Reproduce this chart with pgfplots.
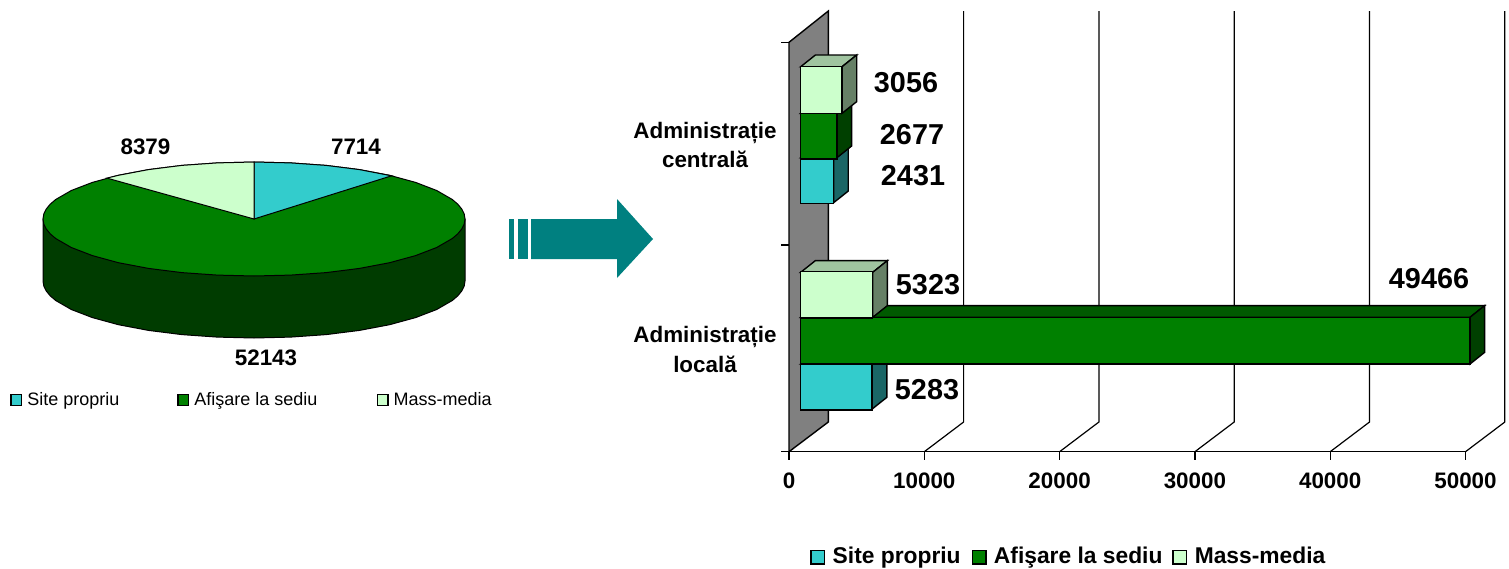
\documentclass[border=0pt]{standalone}
\usepackage{fontspec}
\setmainfont{Liberation Sans}
\usepackage{pgfplots}
\pgfplotsset{compat=1.18}

\definecolor{cSite}{HTML}{33CCCC}
\definecolor{cSiteSide}{HTML}{1A6666}
\definecolor{cAfis}{HTML}{008000}
\definecolor{cAfisTop}{HTML}{005A00}
\definecolor{cAfisSide}{HTML}{004000}
\definecolor{cMass}{HTML}{CCFFCC}
\definecolor{cMassTop}{HTML}{A0C4A0}
\definecolor{cMassSide}{HTML}{668066}
\definecolor{cPieSide}{HTML}{003C00}
\definecolor{cArrow}{HTML}{008080}

\newcommand{\fs}[1]{\fontsize{#1}{#1}\selectfont\bfseries}

% value, y top, y bottom, front, top face, side face
\newcommand{\threedbar}[6]{%
  \edef\xb{\the\numexpr#1+1086\relax}%
  \pgfmathsetmacro\yc{(#2+#3)/2}%
  \pgfmathsetmacro\yt{#2-11.7}%
  \pgfmathsetmacro\yb{#3-11.7}%
  \pgfmathsetmacro\bw{(#3-#2)*0.5}%
  \addplot[forget plot,draw=black,line width=0.7pt,fill=#5,xshift=5.85pt] coordinates {(0,#2) (#1,#2) (\xb,\yt) (1086,\yt)} -- cycle;
  \addplot[forget plot,draw=black,line width=0.7pt,fill=#6,xshift=5.85pt] coordinates {(#1,#2) (\xb,\yt) (\xb,\yb) (#1,#3)} -- cycle;
  \addplot[forget plot,xbar,bar shift=0pt,bar width=\bw pt,draw=black,line width=0.7pt,fill=#4,xshift=5.85pt] coordinates {(#1,\yc)};
}

\begin{document}
\begin{tikzpicture}
\path[use as bounding box] (0,0) rectangle (754.5pt,284pt);

% left part: pie, arrow and all free text, on a pixel grid
\begin{axis}[
  at={(0,0)}, anchor=south west,
  scale only axis, width=754.5pt, height=284pt,
  xmin=0, xmax=1509, ymin=0, ymax=568, y dir=reverse,
  hide axis, clip=false,
  legend style={at={(axis cs:10,400)},anchor=west,draw=none,fill=none,inner sep=0pt,
    font=\fontsize{9}{10}\selectfont,legend columns=3,
    /tikz/column 2/.style={column sep=27pt},
    /tikz/column 4/.style={column sep=27.5pt}},
  legend cell align=left,
  legend image code/.code={\draw[#1,line width=0.6pt] (0pt,-2.9pt) rectangle (5.4pt,2.9pt); \path (6pt,0pt);},
]
% side wall
\addplot[forget plot,draw=black,line width=0.5pt,fill=cPieSide] coordinates {
  (465,219) (465,281) (464.2,286) (461.8,290.9) (457.8,295.8) (452.3,300.5) (436.7,309.5) (415.6,317.6)
  (389.6,324.7) (359.5,330.4) (326.2,334.6) (290.6,337.1) (254,338) (217.4,337.1) (181.8,334.6)
  (148.5,330.4) (118.4,324.7) (92.4,317.6) (71.3,309.5) (55.7,300.5) (50.2,295.8) (46.2,290.9) (43.8,286) (43,281) (43,219)
} -- cycle;
% top: green sector as whole ellipse, other two over it
\addplot[forget plot,draw=black,line width=0.5pt,fill=cAfis] coordinates {
  (465,219) (464.2,224) (461.8,228.9) (457.8,233.8) (452.3,238.5) (436.7,247.5) (415.6,255.6) (389.6,262.7) (359.5,268.4)
  (326.2,272.6) (290.6,275.1) (254,276) (217.4,275.1) (181.8,272.6) (148.5,268.4) (118.4,262.7)
  (92.4,255.6) (71.3,247.5) (55.7,238.5) (50.2,233.8) (46.2,228.9) (43.8,224) (43,219)
  (43.8,214) (46.2,209.1) (50.2,204.2) (55.7,199.5) (71.3,190.5) (92.4,182.4) (118.4,175.3) (148.5,169.6) (181.8,165.4) (217.4,162.9)
  (254,162) (290.6,162.9) (326.2,165.4) (359.5,169.6) (389.6,175.3) (415.6,182.4) (436.7,190.5)
  (452.3,199.5) (457.8,204.2) (461.8,209.1) (464.2,214)
} -- cycle;
\addplot[forget plot,draw=black,line width=0.5pt,fill=cSite] coordinates {
  (254,219) (254,162) (290.6,162.9) (326.2,165.4) (359.5,169.6) (391.6,175.8)
} -- cycle;
\addplot[forget plot,draw=black,line width=0.5pt,fill=cMass] coordinates {
  (254,219) (254,162) (217.4,162.9) (181.8,165.4) (148.5,169.6) (118.4,175.3) (106.9,178.1)
} -- cycle;
% arrow
\addplot[forget plot,draw=none,fill=cArrow] coordinates {(509,219) (514,219) (514,259) (509,259)} -- cycle;
\addplot[forget plot,draw=none,fill=cArrow] coordinates {(518,219) (528,219) (528,259) (518,259)} -- cycle;
\addplot[forget plot,draw=none,fill=cArrow] coordinates {(531,219) (617,219) (617,199) (653,239) (617,278) (617,259) (531,259)} -- cycle;

\addlegendimage{draw=black,fill=cSite}
\addlegendentry{Site propriu}
\addlegendimage{draw=black,fill=cAfis}
\addlegendentry{Afişare la sediu}
\addlegendimage{draw=black,fill=cMass}
\addlegendentry{Mass-media}

\node[font=\fs{11.2}] at (axis cs:145.5,146.5) {8379};
\node[font=\fs{11.2}] at (axis cs:356,146.5) {7714};
\node[font=\fs{11.2}] at (axis cs:266,358) {52143};

\node[font=\fs{14.4}] at (axis cs:906,82.5) {3056};
\node[font=\fs{14.4}] at (axis cs:912,135) {2677};
\node[font=\fs{14.4}] at (axis cs:913,176) {2431};
\node[font=\fs{14.4}] at (axis cs:928,285) {5323};
\node[font=\fs{14.4}] at (axis cs:927,389.5) {5283};
\node[font=\fs{14.4}] at (axis cs:1429,279) {49466};

\node[font=\fs{11.2},align=center] at (axis cs:705,145) {Administrație\\[3.5pt]centrală};
\node[font=\fs{11.2},align=center] at (axis cs:705,349.5) {Administrație\\[3.5pt]locală};
\end{axis}

% right part: horizontal 3D bars
\begin{axis}[
  at={(394.5pt,58.15pt)}, anchor=south west,
  scale only axis, width=358pt, height=220.35pt,
  xmin=0, xmax=52919, ymin=11, ymax=451.7, y dir=reverse,
  clip=false,
  axis line style={draw=none},
  xtick={0,10000,20000,30000,40000,50000},
  ytick={42.3,245,451.7}, yticklabels={},
  xtick pos=lower, ytick pos=left, xticklabel pos=lower,
  tick align=outside, major tick length=4pt,
  tick style={black,line width=0.6pt},
  xticklabel style={font=\fs{11.2},yshift=-3.2pt},
  scaled x ticks=false,
  /pgf/number format/1000 sep={},
  /pgf/number format/assume math mode=true,
  legend style={at={(axis cs:1552,557)},anchor=west,draw=none,fill=none,inner sep=0pt,
    font=\fs{11.4},legend columns=3,
    /tikz/column 2/.style={column sep=3.5pt},
    /tikz/column 4/.style={column sep=3pt}},
  legend cell align=left,
  legend image code/.code={\draw[#1,line width=0.7pt] (0pt,-3.4pt) rectangle (6.8pt,3.4pt); \path (8.6pt,0pt);},
]
% back wall and floor
\addplot[forget plot,draw=black,line width=0.7pt,fill=gray] coordinates {(0,451.7) (2905,422) (2905,11) (0,42.3)} -- cycle;
\addplot[forget plot,black,line width=0.7pt] coordinates {(-590,451.7) (50000,451.7)};
% grid
\addplot[forget plot,black,line width=0.6pt] coordinates {(10000,451.7) (12905,422) (12905,11)};
\addplot[forget plot,black,line width=0.6pt] coordinates {(20000,451.7) (22905,422) (22905,11)};
\addplot[forget plot,black,line width=0.6pt] coordinates {(30000,451.7) (32905,422) (32905,11)};
\addplot[forget plot,black,line width=0.6pt] coordinates {(40000,451.7) (42905,422) (42905,11)};
\addplot[forget plot,black,line width=0.6pt] coordinates {(50000,451.7) (52905,422) (52905,11)};

% Administratie locala
\threedbar{5283}{364}{409}{cSite}{cSiteSide}{cSiteSide}
\threedbar{49466}{317.3}{364}{cAfis}{cAfisTop}{cAfisSide}
\threedbar{5323}{272.3}{317.3}{cMass}{cMassTop}{cMassSide}
% Administratie centrala
\threedbar{2431}{157.7}{202.7}{cSite}{cSiteSide}{cSiteSide}
\threedbar{2677}{113.3}{157.7}{cAfis}{cAfisTop}{cAfisSide}
\threedbar{3056}{66.7}{113.3}{cMass}{cMassTop}{cMassSide}

\addlegendimage{draw=black,fill=cSite}
\addlegendentry{Site propriu}
\addlegendimage{draw=black,fill=cAfis}
\addlegendentry{Afişare la sediu}
\addlegendimage{draw=black,fill=cMass}
\addlegendentry{Mass-media}
\end{axis}
\end{tikzpicture}
\end{document}
